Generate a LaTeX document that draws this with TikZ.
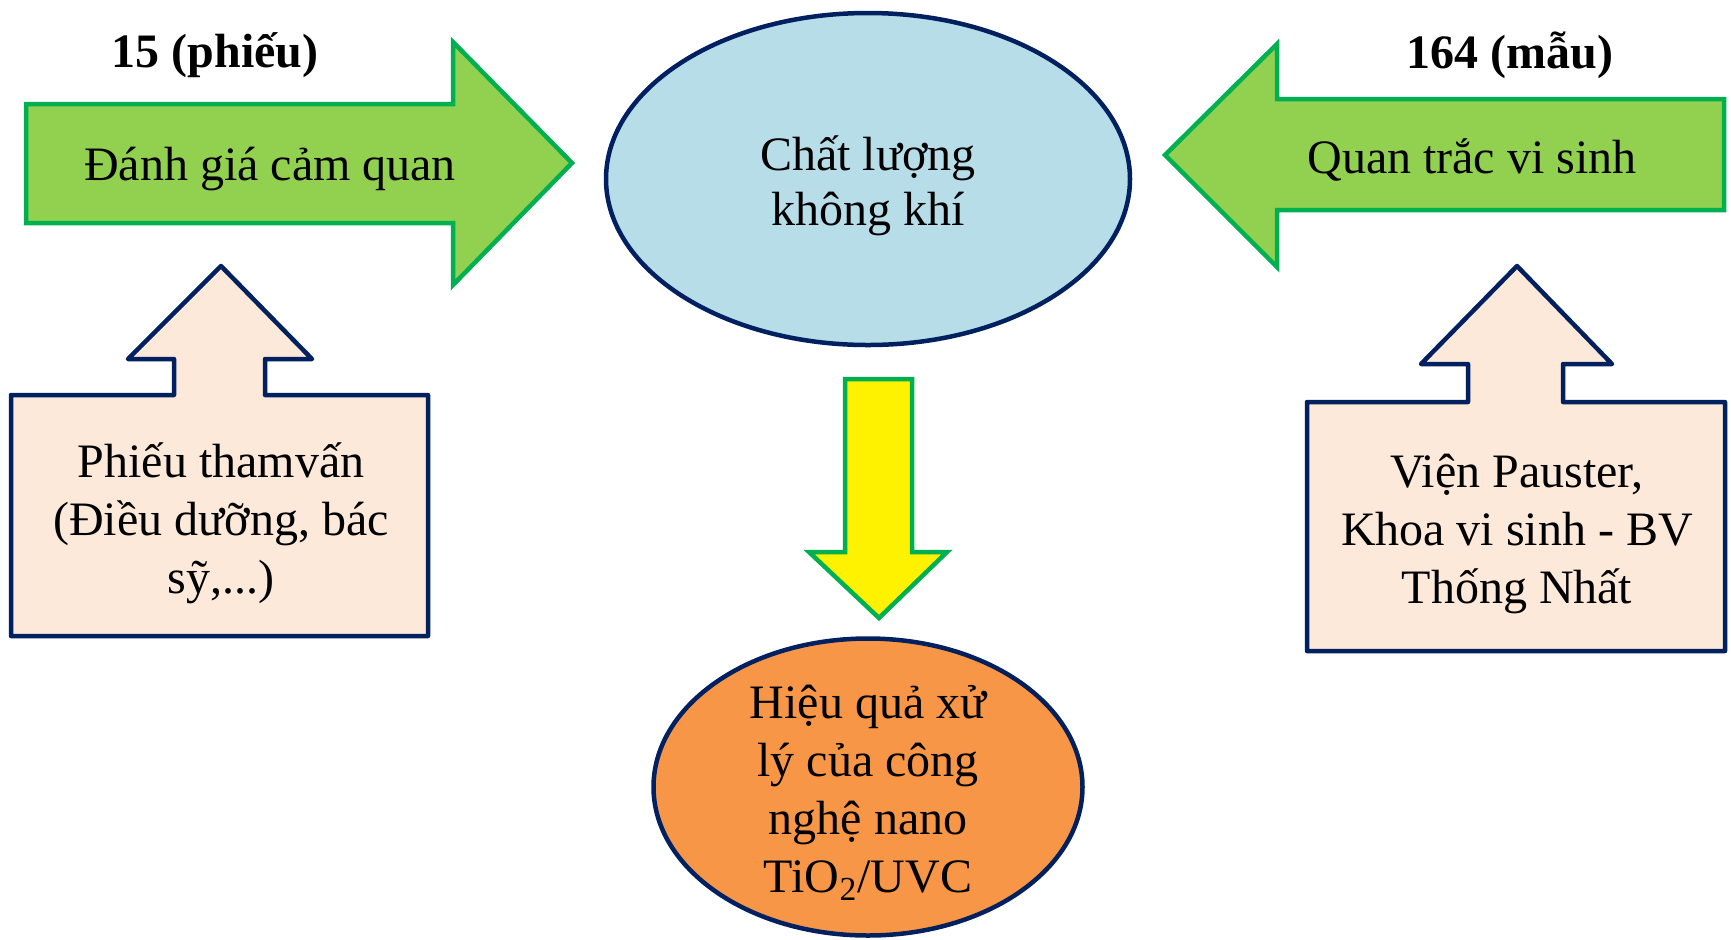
\documentclass[tikz,border=0pt]{standalone}
\usepackage{fontspec}
\setmainfont{Liberation Serif}
\usepackage{tikz}
\usetikzlibrary{positioning,shapes.geometric}

\definecolor{leafgreen}{HTML}{92D050}
\definecolor{edgegreen}{HTML}{00B050}
\definecolor{navy}{HTML}{002060}
\definecolor{skyblue}{HTML}{B7DEE8}
\definecolor{peach}{HTML}{FDE9D9}
\definecolor{tangerine}{HTML}{F79646}

\begin{document}
\begin{tikzpicture}[x=0.5pt, y=-0.5pt,
				font=\fontsize{24}{29}\selectfont,
				fatarrow/.style={draw=edgegreen, fill=leafgreen, line width=2.25pt},
				downarrow/.style={draw=edgegreen, fill=yellow, line width=2.25pt},
				callout/.style={draw=navy, fill=peach, line width=2.25pt, line join=round},
				bubble/.style={ellipse, draw=navy, line width=2.25pt, inner sep=0pt, align=center},
				label/.style={rectangle, align=center, inner sep=0pt},
				count/.style={rectangle, inner sep=0pt, font=\fontsize{24}{29}\selectfont\bfseries}
			]
			\useasboundingbox (0,0) rectangle (1731,939);
			% arrows and callouts
			\draw[fatarrow] (26,104) -- (453,104) -- (453,42) -- (572,163) -- (453,285) -- (453,223) -- (26,223) -- cycle;
			\draw[fatarrow] (1724,99) -- (1277,99) -- (1277,44) -- (1165,155) -- (1277,267) -- (1277,210) -- (1724,210) -- cycle;
			\draw[downarrow] (845,379) -- (912,379) -- (912,552) -- (947,552) -- (879,618) -- (809,552) -- (845,552) -- cycle;
			\draw[callout] (11,395) -- (174,395) -- (174,359) -- (128,359) -- (221,266) -- (312,359) -- (265,359) -- (265,395) -- (428,395) -- (428,636) -- (11,636) -- cycle;
			\draw[callout] (1307,402) -- (1468,402) -- (1468,364) -- (1421,364) -- (1517,266) -- (1612,364) -- (1563,364) -- (1563,402) -- (1725,402) -- (1725,651) -- (1307,651) -- cycle;
			% ellipses
			\node[bubble, fill=skyblue, minimum width=262pt, minimum height=166pt] (air) at (868,179) {};
			\node[label, font=\fontsize{24}{27.5}\selectfont] (airtext) at (868,186) {Chất lượng\\không khí};
			\node[bubble, fill=tangerine, minimum width=214.5pt, minimum height=148.5pt] (effect) at (868,787) {};
			\node[label] (effecttext) at (868,793) {Hiệu quả xử\\lý của công\\nghệ nano\\TiO\textsubscript{2}/UVC};
			% texts
			\node[label] (sensory) at (270,169) {Đánh giá cảm quan};
			\node[label] (microbe) at (1472,160) {Quan trắc vi sinh};
			\node[count] (sheets) at (215,55) {15 (phiếu)};
			\node[count] (samples) at (1510,55) {164 (mẫu)};
			\node[label] (survey) at (221,523) {Phiếu thamvấn\\(Điều dưỡng, bác\\sỹ,...)};
			\node[label] (institute) at (1517,534) {Viện Pauster,\\Khoa vi sinh - BV\\Thống Nhất};
			\end{tikzpicture}
\end{document}
